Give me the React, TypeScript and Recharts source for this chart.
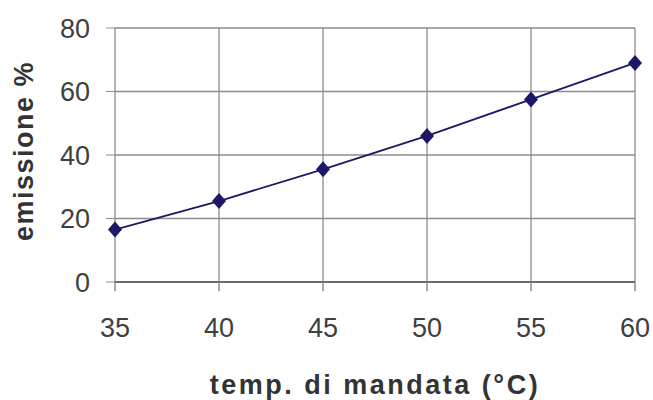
import { LineChart, Line, XAxis, YAxis, CartesianGrid, Label } from 'recharts';

const temps = [35, 40, 45, 50, 55, 60];
const emissions = [16.5, 25.5, 35.5, 46, 57.5, 69];
const xTicks = [35, 40, 45, 50, 55, 60];
const yTicks = [0, 20, 40, 60, 80];

const data = temps.map((t, i) => ({ temp: t, emissione: emissions[i] }));

const Diamond = (props: any) => {
    const { cx, cy } = props;
    if (cx == null || cy == null) return null;
    return (
        <polygon
            points={`${cx},${cy - 8} ${cx + 7},${cy} ${cx},${cy + 8} ${cx - 7},${cy}`}
            fill="#1d1866"
        />
    );
};

const YLabel = (props: any) => {
    const vb = props.viewBox || { x: 0, y: 28, width: 115, height: 254 };
    const cx = 33;
    const cy = vb.y + vb.height / 2 - 4;
    return (
        <text
            x={cx}
            y={cy}
            transform={`rotate(-90 ${cx} ${cy})`}
            textAnchor="middle"
            fontFamily="'Liberation Sans', Arial, sans-serif"
            fontWeight="bold"
            fontSize={27}
            letterSpacing={1.5}
            fill="#333"
        >
            emissione %
        </text>
    );
};

const tickStyle = { fontFamily: "'Liberation Sans', Arial, sans-serif", fontSize: 27, fill: '#3f3f3f' };

const EmissionChart = () => {
    return (
        <div style={{ position: 'absolute', left: 0, top: 0 }}>
            <LineChart data={data} width={653} height={400} margin={{ top: 28, right: 18, left: 0, bottom: 0 }}>
                <CartesianGrid stroke="#8c8c8c" strokeWidth={1.3} />
                <XAxis
                    dataKey="temp"
                    type="number"
                    domain={[35, 60]}
                    ticks={xTicks}
                    height={118}
                    tickSize={9}
                    tickMargin={27}
                    stroke="#555"
                    strokeWidth={1.5}
                    tick={tickStyle}
                    tickLine={{ stroke: '#8c8c8c' }}
                >
                    <Label
                        value="temp. di mandata (°C)"
                        position="insideBottom"
                        offset={6}
                        style={{
                            fontFamily: "'Liberation Sans', Arial, sans-serif",
                            fontWeight: 'bold',
                            fontSize: 27,
                            letterSpacing: 2.5,
                            fill: '#333',
                        }}
                    />
                </XAxis>
                <YAxis
                    domain={[0, 80]}
                    ticks={yTicks}
                    width={115}
                    tickSize={9}
                    tickMargin={16}
                    stroke="#8c8c8c"
                    tick={tickStyle}
                    axisLine={false}
                >
                    <Label content={<YLabel />} />
                </YAxis>
                <Line
                    dataKey="emissione"
                    stroke="#1d1866"
                    strokeWidth={1.8}
                    dot={<Diamond />}
                    activeDot={false}
                    isAnimationActive={false}
                />
            </LineChart>
        </div>
    );
};

export default EmissionChart;
